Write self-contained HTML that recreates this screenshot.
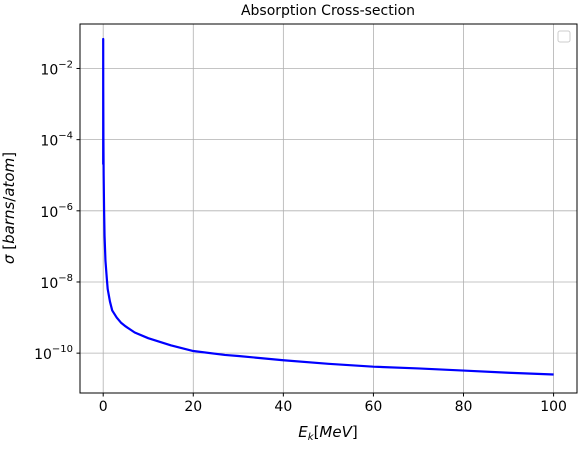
<!DOCTYPE html>
<html><head><meta charset="utf-8"><style>
body{margin:0;background:#fff;}
svg text{font-family:"DejaVu Sans","Liberation Sans",sans-serif;fill:#000;}
</style></head><body>
<svg id="chart" width="580" height="446">
<g id="grid"></g>
<g id="series"></g>
<rect x="80" y="24" width="497" height="369" fill="none" stroke="#000" stroke-width="1"/>
<g id="ticks"></g>
<text x="328" y="15" font-size="14" text-anchor="middle">Absorption Cross-section</text>
<text x="328" y="437" font-size="15" text-anchor="middle"><tspan font-style="italic">E</tspan><tspan font-style="italic" font-size="10" dy="3">k</tspan><tspan dy="-3">[</tspan><tspan font-style="italic">MeV</tspan>]</text>
<text transform="translate(14,208) rotate(-90)" font-size="15" text-anchor="middle"><tspan font-style="italic">σ</tspan> [<tspan font-style="italic">barns</tspan>/<tspan font-style="italic">atom</tspan>]</text>
<rect x="558" y="31" width="12" height="11" rx="2" fill="#fff" stroke="#ccc"/>
</svg>
<script>
const energies=[0,0.001,0.01,0.05,0.1,0.2,0.3,0.5,0.8,1,1.5,2,3,4,5,7,10,15,20,27,30,40,50,60,70,80,90,100];
const logSigma=[-4.7,-1.17,-2.5,-4,-5,-6,-6.7,-7.4,-7.9,-8.2,-8.55,-8.8,-9.0,-9.15,-9.25,-9.42,-9.58,-9.78,-9.94,-10.05,-10.08,-10.2,-10.3,-10.38,-10.43,-10.49,-10.55,-10.6];
const xTicks=[0,20,40,60,80,100];
const yTickExps=[-10,-8,-6,-4,-2];
const NS="http://www.w3.org/2000/svg";
const X0=80,X1=577,Y0=24,Y1=393,XMIN=-5.15,XMAX=105.2,LMIN=-11.12,LMAX=-0.75;
function sx(v){return X0+(v-XMIN)/(XMAX-XMIN)*(X1-X0);}
function sy(l){return Y1-(l-LMIN)/(LMAX-LMIN)*(Y1-Y0);}
function mk(tag,attrs,parent){const e=document.createElementNS(NS,tag);for(const k in attrs)e.setAttribute(k,attrs[k]);parent.appendChild(e);return e;}
const grid=document.getElementById('grid'),ticks=document.getElementById('ticks'),series=document.getElementById('series');
xTicks.forEach(t=>{const x=sx(t);
 const g=mk('line',{x1:x,x2:x,y1:Y0,y2:Y1,stroke:'#b0b0b0','stroke-width':0.8},grid);
 
 
 mk('line',{x1:x,x2:x,y1:Y1,y2:Y1+3.5,stroke:'#000'},ticks);
 const tx=mk('text',{x:x,y:Y1+18,'font-size':14,'text-anchor':'middle'},ticks);tx.textContent=t;
 
 
});
yTickExps.forEach(t=>{const y=sy(t);
 const g=mk('line',{x1:X0,x2:X1,y1:y,y2:y,stroke:'#b0b0b0','stroke-width':0.8},grid);
 
 
 mk('line',{x1:X0-3.5,x2:X0,y1:y,y2:y,stroke:'#000'},ticks);
 const tx=mk('text',{x:X0-7,y:y+6,'font-size':14,'text-anchor':'end'},ticks);
 
 
 tx.innerHTML='10<tspan dy="-7" font-size="10">−'+Math.abs(t)+'</tspan>';
});
const pts=energies.map((e,i)=>sx(e).toFixed(2)+','+sy(logSigma[i]).toFixed(2)).join(' ');
const line=mk('polyline',{points:pts,fill:'none',stroke:'#0000ff','stroke-width':2.2,'stroke-linejoin':'round'},series);


</script>
</body></html>
